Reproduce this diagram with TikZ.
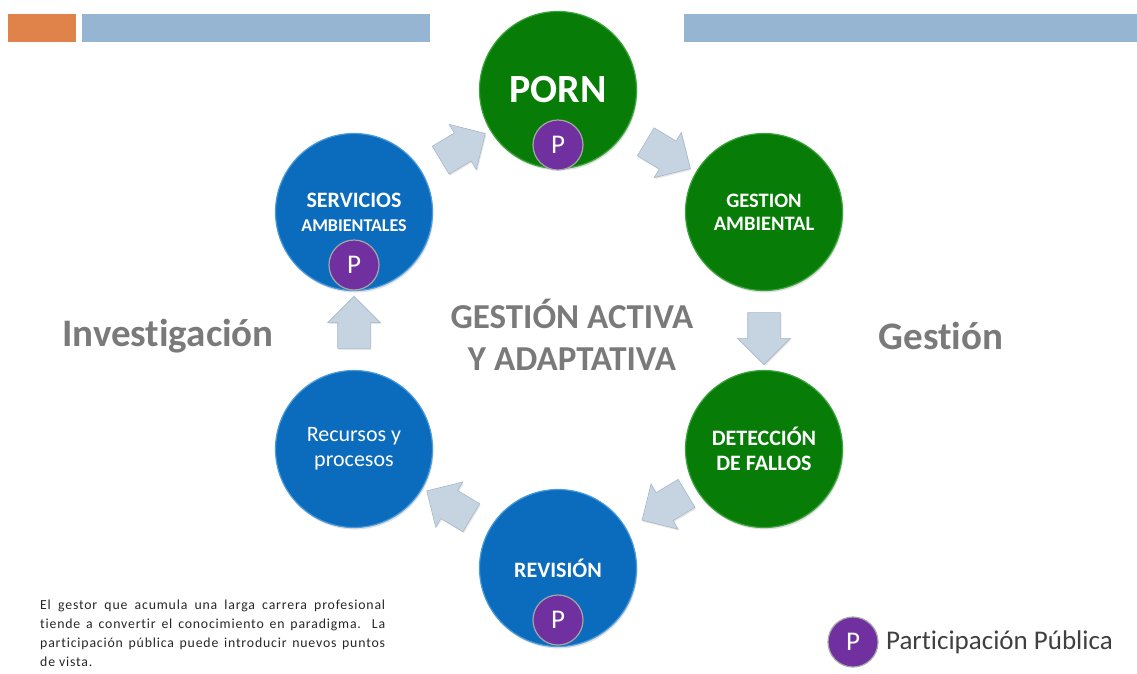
\documentclass[tikz,border=0pt]{standalone}
\usepackage{fontspec}
\setmainfont{Carlito}[Ligatures=CommonOff]
\newfontfamily\espaciada[LetterSpace=6,Ligatures=CommonOff]{Carlito}
\usetikzlibrary{shapes,arrows,positioning,calc,shadows}
\definecolor{verde}{HTML}{077D07}
\definecolor{verdeborde}{HTML}{3BA33B}
\definecolor{azul}{HTML}{0B6CBD}
\definecolor{azulborde}{HTML}{4A9BDB}
\definecolor{morado}{HTML}{7030A0}
\definecolor{flecha}{HTML}{C6D4E2}
\definecolor{flechaborde}{HTML}{A5B8CB}
\definecolor{gristexto}{HTML}{7A7A7A}
\definecolor{naranja}{HTML}{E0834A}
\definecolor{barra}{HTML}{95B5D3}

\begin{document}
\begin{tikzpicture}[x=1pt,y=-1pt]

  \tikzset{green node/.style={circle, fill=verde, draw=verdeborde, line width=1.2pt,
  		minimum size=157pt, text=white, align=center,
  		drop shadow={opacity=0.25,shadow xshift=1pt,shadow yshift=-2pt}}, }
  \tikzset{blue node/.style={green node, fill=azul, draw=azulborde}, }
  \tikzset{p node/.style={circle, fill=morado, draw=gray!70, line width=1.2pt,
  		minimum size=50pt, inner sep=0pt, text=white,
  		font=\fontsize{27}{27}\selectfont}, }
  \tikzset{linea/.style={single arrow, fill=flecha, draw=flechaborde, line width=0.6pt,
  		inner sep=16pt, minimum height=52pt, single arrow head extend=10pt,
  		drop shadow={opacity=0.2,shadow xshift=1pt,shadow yshift=-1.5pt}}, }
  \tikzset{side node/.style={text=gristexto, font=\fontsize{39}{44}\selectfont\bfseries}, }

\useasboundingbox (0,0) rectangle (1137,673);
% cabecera
\fill[naranja] (8,14) rectangle (76,42);
\fill[barra] (82,14) rectangle (430,42);
\fill[barra] (684,14) rectangle (1137,42);

\node[green node, font=\fontsize{40}{44}\selectfont\bfseries] (1) at (558,90) {PORN};
\node[green node, font=\fontsize{20.5}{23}\selectfont\bfseries] (2) at (764,212) {GESTION\\AMBIENTAL};
\node[green node, font=\fontsize{22}{25}\selectfont\bfseries] (3) at (764,449) {DETECCIÓN\\DE FALLOS};
\node[blue node, font=\fontsize{22}{25}\selectfont\bfseries] (4) at (558,568) {REVISIÓN};
\node[blue node, font=\fontsize{22}{25}\selectfont] (5) at (354,449) {Recursos y\\procesos};
\node[blue node, font=\fontsize{22}{24}\selectfont\bfseries] (6) at (354,212)
  {SERVICIOS\\{\fontsize{18}{20}\selectfont AMBIENTALES}};

\node[p node] (p1) at ($(1)+(0,55)$) {P};
\node[p node] (p6) at ($(6)+(0,53)$) {P};
\node[p node] (p4) at ($(4)+(0,52)$) {P};

\foreach \x/\y/\a/\f in {6/1/31/0.5,1/2/-31/0.5,2/3/-90/0.5,3/4/-149/0.45,4/5/149/0.5,5/6/90/0.5}
  \node[linea, rotate=\a] at ($(\x)!\f!(\y)$) {};

\node[text=gristexto, align=center, font=\fontsize{35}{42}\selectfont\bfseries] (centro) at (572,335)
  {GESTIÓN ACTIVA\\Y ADAPTATIVA};
\node[side node] (inv) at (168,336) {Investigación};
\node[side node] (ges) at (941,336) {Gestión};

\node[anchor=north west, inner sep=0pt, text width=345pt, align=justify, text=black!85,
  font=\espaciada\fontsize{13.8}{19}\selectfont] (texto) at (40,600)
  {El gestor que acumula una larga carrera profesional\linebreak
   tiende a convertir el conocimiento en paradigma. La\linebreak
   participación pública puede introducir nuevos puntos\linebreak
   de vista.};

\node[p node] (leyenda) at (853,642) {P};
\node[right=4pt of leyenda, text=black!75, font=\fontsize{27}{30}\selectfont] (part) {Participación Pública};
%%
\end{tikzpicture}
\end{document}
